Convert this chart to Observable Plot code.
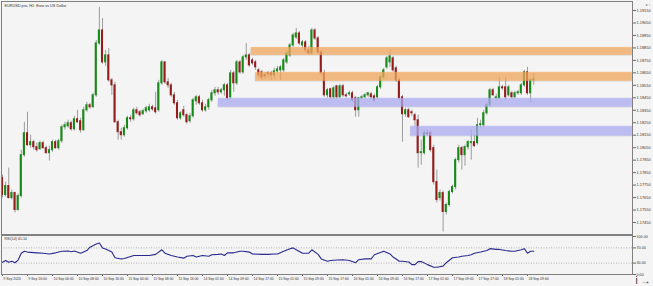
<!DOCTYPE html>
<html><head><meta charset="utf-8">
<script src="https://cdn.jsdelivr.net/npm/d3@7"></script>
<script src="https://cdn.jsdelivr.net/npm/@observablehq/plot@0.6"></script>
<style>
html,body{margin:0;padding:0;background:#f4f4f4;}
#chart{position:relative;width:653px;height:286px;overflow:hidden;background:#f4f4f4;}
#chart svg{position:absolute;left:0;top:0;}
</style></head><body><div id="chart"></div>
<script>
const title = "EURUSD.pro, H1: Euro vs US Dollar";
const rsiTitle = "RSI(14) 61.14";

const open = [
1.17806,1.17670,1.17742,1.17646,1.17686,1.17550,1.17662,1.17990,1.18166,1.18070,
1.18094,1.18054,1.18038,1.18086,1.18046,1.18006,1.18030,1.18094,1.18046,1.18102,
1.18214,1.18222,1.18246,1.18198,1.18278,1.18262,1.18190,1.18350,1.18390,1.18374,
1.18470,1.18886,1.18990,1.18734,1.18790,1.18590,1.18550,1.18254,1.18174,1.18150,
1.18206,1.18286,1.18278,1.18350,1.18334,1.18318,1.18342,1.18350,1.18374,1.18366,
1.18350,1.18566,1.18734,1.18574,1.18550,1.18470,1.18406,1.18286,1.18350,1.18310,
1.18262,1.18302,1.18422,1.18454,1.18406,1.18350,1.18374,1.18430,1.18486,1.18510,
1.18494,1.18510,1.18550,1.18454,1.18646,1.18566,1.18734,1.18654,1.18774,1.18790,
1.18750,1.18734,1.18670,1.18654,1.18630,1.18646,1.18646,1.18630,1.18662,1.18670,
1.18670,1.18734,1.18790,1.18870,1.18934,1.18966,1.18870,1.18894,1.18830,1.18806,
1.18990,1.18926,1.18814,1.18646,1.18470,1.18518,1.18454,1.18542,1.18454,1.18542,
1.18470,1.18478,1.18486,1.18446,1.18350,1.18446,1.18454,1.18470,1.18478,1.18462,
1.18454,1.18534,1.18614,1.18694,1.18734,1.18766,1.18686,1.18590,1.18454,1.18318,
1.18350,1.18334,1.18310,1.18270,1.18006,1.18006,1.18166,1.18166,1.18046,1.17774,
1.17646,1.17686,1.17534,1.17590,1.17694,1.17734,1.17950,1.18046,1.17990,1.18054,
1.18086,1.18094,1.18086,1.18230,1.18230,1.18326,1.18390,1.18510,1.18446,1.18446,
1.18534,1.18534,1.18470,1.18486,1.18454,1.18486,1.18486,1.18550,1.18654,1.18486,
1.18590];
const high = [
1.17830,1.17774,1.17886,1.17710,1.17694,1.17678,1.18030,1.18254,1.18334,1.18150,
1.18110,1.18086,1.18102,1.18102,1.18062,1.18062,1.18110,1.18110,1.18118,1.18230,
1.18254,1.18270,1.18262,1.18302,1.18350,1.18286,1.18374,1.18414,1.18406,1.18486,
1.18910,1.19174,1.19086,1.18830,1.18846,1.18606,1.18574,1.18270,1.18206,1.18230,
1.18302,1.18310,1.18366,1.18374,1.18350,1.18358,1.18382,1.18398,1.18390,1.18494,
1.18590,1.18750,1.18742,1.18606,1.18566,1.18494,1.18430,1.18342,1.18382,1.18326,
1.18326,1.18446,1.18470,1.18470,1.18430,1.18398,1.18446,1.18510,1.18534,1.18534,
1.18526,1.18566,1.18566,1.18670,1.18662,1.18750,1.18750,1.18790,1.18886,1.18806,
1.18766,1.18750,1.18686,1.18670,1.18654,1.18662,1.18662,1.18686,1.18702,1.18710,
1.18766,1.18822,1.18886,1.18966,1.19006,1.18982,1.18910,1.18910,1.18862,1.19006,
1.19006,1.18942,1.18830,1.18670,1.18526,1.18526,1.18542,1.18550,1.18558,1.18558,
1.18486,1.18502,1.18502,1.18462,1.18454,1.18470,1.18486,1.18494,1.18494,1.18478,
1.18550,1.18630,1.18686,1.18782,1.18830,1.18782,1.18702,1.18606,1.18470,1.18366,
1.18366,1.18350,1.18326,1.18310,1.18110,1.18190,1.18190,1.18182,1.18070,1.17870,
1.17710,1.17702,1.17606,1.17710,1.17750,1.17966,1.18070,1.18062,1.18070,1.18110,
1.18190,1.18150,1.18286,1.18270,1.18350,1.18406,1.18526,1.18526,1.18478,1.18614,
1.18550,1.18614,1.18550,1.18502,1.18502,1.18510,1.18566,1.18670,1.18694,1.18606,
1.18646];
const low = [
1.17646,1.17654,1.17638,1.17630,1.17526,1.17542,1.17646,1.17974,1.18062,1.18046,
1.18030,1.18014,1.18030,1.18038,1.17998,1.17942,1.18014,1.18038,1.18030,1.18086,
1.18190,1.18206,1.18182,1.18182,1.18246,1.18166,1.18182,1.18334,1.18358,1.18366,
1.18454,1.18870,1.18718,1.18702,1.18574,1.18470,1.18246,1.18110,1.18110,1.18134,
1.18190,1.18254,1.18262,1.18310,1.18294,1.18310,1.18326,1.18334,1.18342,1.18318,
1.18334,1.18550,1.18558,1.18526,1.18454,1.18390,1.18270,1.18270,1.18294,1.18238,
1.18246,1.18286,1.18390,1.18390,1.18334,1.18334,1.18350,1.18414,1.18462,1.18470,
1.18478,1.18462,1.18430,1.18438,1.18494,1.18550,1.18638,1.18638,1.18750,1.18694,
1.18710,1.18670,1.18606,1.18590,1.18598,1.18606,1.18590,1.18606,1.18646,1.18590,
1.18654,1.18718,1.18774,1.18854,1.18918,1.18870,1.18846,1.18806,1.18790,1.18790,
1.18910,1.18798,1.18630,1.18454,1.18446,1.18438,1.18438,1.18438,1.18446,1.18454,
1.18446,1.18462,1.18414,1.18294,1.18294,1.18438,1.18446,1.18454,1.18438,1.18414,
1.18438,1.18518,1.18598,1.18678,1.18694,1.18654,1.18574,1.18430,1.18094,1.18294,
1.18286,1.18302,1.18214,1.17886,1.17910,1.17990,1.18142,1.18014,1.17750,1.17606,
1.17622,1.17374,1.17510,1.17574,1.17678,1.17710,1.17926,1.17870,1.17902,1.18030,
1.17950,1.18054,1.18070,1.18206,1.18214,1.18310,1.18374,1.18462,1.18430,1.18438,
1.18510,1.18430,1.18454,1.18438,1.18438,1.18470,1.18470,1.18534,1.18470,1.18406,
1.18550];
const close = [
1.17670,1.17742,1.17646,1.17686,1.17550,1.17662,1.17990,1.18166,1.18070,1.18094,
1.18054,1.18030,1.18086,1.18046,1.18006,1.18030,1.18094,1.18046,1.18102,1.18214,
1.18230,1.18246,1.18198,1.18278,1.18254,1.18190,1.18350,1.18390,1.18374,1.18470,
1.18886,1.18990,1.18734,1.18790,1.18590,1.18550,1.18254,1.18174,1.18150,1.18206,
1.18286,1.18278,1.18350,1.18326,1.18310,1.18342,1.18366,1.18374,1.18358,1.18334,
1.18566,1.18734,1.18574,1.18550,1.18470,1.18406,1.18286,1.18326,1.18310,1.18254,
1.18302,1.18430,1.18454,1.18406,1.18350,1.18374,1.18430,1.18486,1.18510,1.18494,
1.18510,1.18550,1.18446,1.18646,1.18566,1.18734,1.18654,1.18774,1.18790,1.18710,
1.18726,1.18694,1.18630,1.18614,1.18622,1.18638,1.18630,1.18662,1.18678,1.18694,
1.18750,1.18806,1.18870,1.18950,1.18966,1.18886,1.18894,1.18830,1.18806,1.18990,
1.18926,1.18814,1.18646,1.18470,1.18510,1.18454,1.18526,1.18454,1.18542,1.18470,
1.18462,1.18486,1.18430,1.18350,1.18446,1.18454,1.18470,1.18486,1.18454,1.18430,
1.18534,1.18614,1.18670,1.18766,1.18782,1.18670,1.18590,1.18446,1.18318,1.18350,
1.18294,1.18326,1.18270,1.18006,1.18014,1.18166,1.18158,1.18030,1.17774,1.17630,
1.17686,1.17534,1.17590,1.17694,1.17734,1.17950,1.18046,1.17990,1.18054,1.18094,
1.18094,1.18062,1.18230,1.18238,1.18326,1.18390,1.18510,1.18470,1.18454,1.18534,
1.18526,1.18454,1.18534,1.18454,1.18486,1.18494,1.18550,1.18654,1.18486,1.18590,
1.18598];

// RSI(14) read at candle indices
const rsiIdx = [0,1,2,3,4,5,6,7,8,11,13,15,17,19,21,22,23,25,27,28,30,31,32,33,35,36,38,39,42,44,47,49,51,52,54,56,58,59,61,62,64,66,67,69,70,71,72,74,76,77,79,80,83,85,87,88,90,92,93,94,96,98,99,101,102,104,105,107,109,111,113,114,116,118,119,122,124,125,127,128,130,131,132,133,134,136,138,139,141,142,144,146,147,149,150,151,153,155,156,158,159,161,163,164,166,167,168,169,170];
const rsiVal = [32,37,32,35,31,38,56,61,59,57,56,54,57,61,62,60,62,56,63,72,80,83,70,67,59,44,41,42,50,50,50,53,65,56,50,46,43,48,50,46,50,48,52,53,54,50,57,57,61,61,59,54,53,53,54,54,61,68,70,65,56,56,65,53,41,35,37,38,39,37,31,39,41,41,52,61,54,46,35,35,33,26,26,34,34,26,19,19,22,31,44,46,48,50,52,56,59,63,68,66,66,63,61,61,65,68,56,61,61.14];

// time axis labels every 8 candles
const timeTickIdx = [0,8,16,24,32,40,48,56,64,72,80,88,96,104,112,120,128,136,144,152,160,168];
const timeLabels = ["9 Sep 2020","9 Sep 16:00","10 Sep 00:00","10 Sep 08:00","10 Sep 16:00","11 Sep 00:00","11 Sep 08:00","11 Sep 16:00","14 Sep 01:00","14 Sep 09:00","14 Sep 17:00","15 Sep 01:00","15 Sep 09:00","15 Sep 17:00","16 Sep 01:00","16 Sep 09:00","16 Sep 17:00","17 Sep 01:00","17 Sep 09:00","17 Sep 17:00","18 Sep 01:00","18 Sep 09:00"];

const priceTicks = [1.1745,1.1755,1.1765,1.1775,1.1785,1.1795,1.1805,1.1815,1.1825,1.1835,1.1845,1.1855,1.1865,1.1875,1.1885,1.1895,1.1905,1.1915];
const rsiTicks = [0,30,70,100];

// supply / demand zones
const zoneStart = [79.6, 81, 69.1, 130.6];
const zoneTop = [1.18854, 1.18654, 1.18446, 1.18222];
const zoneBottom = [1.18790, 1.18582, 1.18374, 1.18142];
const zoneKind = ["orange","orange","blue","blue"];

const candles = open.map((o, i) => ({i, o, h: high[i], l: low[i], c: close[i], up: close[i] >= o}));
const rsi = rsiIdx.map((i, k) => ({i, v: rsiVal[k]}));
const zones = zoneStart.map((x1, k) => ({x1, y1: zoneBottom[k], y2: zoneTop[k], kind: zoneKind[k]}));
const labelMap = new Map(timeTickIdx.map((d, k) => [d, timeLabels[k]]));

const W = 653, H = 286;
const xDomain = [-0.32, 201.6], xRange = [1, 632];
const font = "'Liberation Sans', Arial, sans-serif";
const bodyOpts = {x1: d => d.i - 0.33, x2: d => d.i + 0.33, y1: d => Math.min(d.o, d.c), y2: d => Math.max(d.o, d.c), insetTop: -0.5, insetBottom: -0.5};

const main = Plot.plot({
  width: W, height: H,
  marginTop: 1, marginLeft: 1, marginRight: 21, marginBottom: 52,
  x: {domain: xDomain, range: xRange, axis: null},
  y: {domain: [1.1745, 1.1915], range: [222, 10], axis: null},
  style: {background: "transparent", color: "#333", fontFamily: font},
  marks: [
    Plot.ruleX(candles, {x: "i", y1: "l", y2: "h", stroke: "#9c9c9c", strokeWidth: 1}),
    Plot.rect(candles.filter(d => d.up), {...bodyOpts, fill: "#168a16"}),
    Plot.rect(candles.filter(d => !d.up), {...bodyOpts, fill: "#961c1c"}),
    Plot.rect(zones, {x1: "x1", x2: () => xDomain[1], y1: "y1", y2: "y2", fill: "#888", fillOpacity: 0.18, dy: 1, dx: -0.5}),
    Plot.rect(zones.filter(d => d.kind === "orange"), {x1: "x1", x2: () => xDomain[1], y1: "y1", y2: "y2", fill: "rgb(248,168,90)", fillOpacity: 0.7}),
    Plot.rect(zones.filter(d => d.kind === "blue"), {x1: "x1", x2: () => xDomain[1], y1: "y1", y2: "y2", fill: "rgb(172,172,246)", fillOpacity: 0.7}),
    Plot.axisY(priceTicks, {anchor: "right", tickSize: 3, tickPadding: 1, fontSize: 3.9, tickFormat: d => d.toFixed(5), stroke: "#666"}),
    Plot.frame({stroke: "#808080"}),
    Plot.text([title], {frameAnchor: "top-left", dx: 3, dy: 3, fontSize: 3.8, fill: "#333"})
  ]
});

const rsiPlot = Plot.plot({
  width: W, height: H,
  marginTop: 235, marginLeft: 1, marginRight: 21, marginBottom: 12,
  x: {domain: xDomain, range: xRange, axis: null},
  y: {domain: [0, 100], range: [274, 236], axis: null},
  style: {background: "transparent", color: "#333", fontFamily: font},
  marks: [
    Plot.ruleY([30, 70], {stroke: "#b4b4b4", strokeDasharray: "1,1.5"}),
    Plot.line(rsi, {x: "i", y: "v", stroke: "#2a2a8e", strokeWidth: 1.1}),
    Plot.axisY(rsiTicks, {anchor: "right", tickSize: 3, tickPadding: 1, fontSize: 3.7, tickFormat: d => d.toFixed(2), stroke: "#666"}),
    Plot.axisX(timeTickIdx, {anchor: "bottom", tickSize: 2, tickFormat: () => "", stroke: "#666"}),
    Plot.text(timeTickIdx, {x: d => d, text: d => labelMap.get(d), frameAnchor: "bottom", textAnchor: "start", lineAnchor: "top", dx: 1, dy: 3, fontSize: 3.4, fill: "#333"}),
    Plot.frame({stroke: "#808080"}),
    Plot.text([rsiTitle], {frameAnchor: "top-left", dx: 3, dy: 2, fontSize: 3.6, fill: "#333"})
  ]
});

const el = document.getElementById("chart");
el.appendChild(main);
el.appendChild(rsiPlot);
</script>
</body></html>
